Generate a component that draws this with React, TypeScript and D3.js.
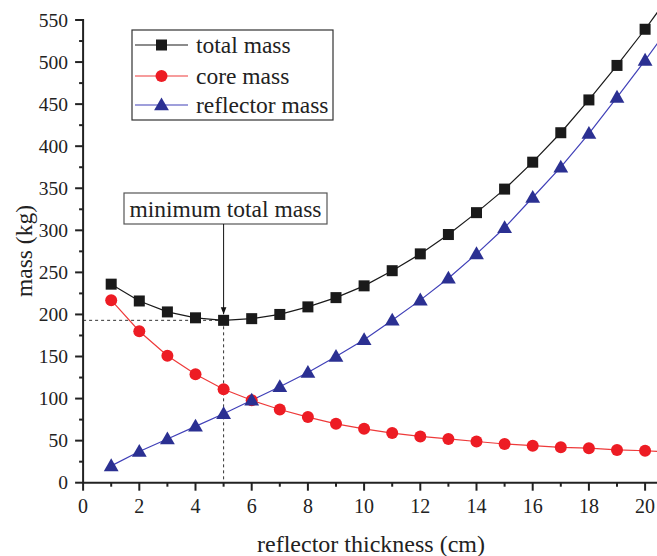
import React from "react";
import * as d3 from "d3";

const thickness = [1, 2, 3, 4, 5, 6, 7, 8, 9, 10, 11, 12, 13, 14, 15, 16, 17, 18, 19, 20, 21];
const totalMass = [236, 216, 203, 196, 193, 195, 200, 209, 220, 234, 252, 272, 295, 321, 349, 381, 416, 455, 496, 539, 585];
const coreMass = [217, 180, 151, 129, 111, 98, 87, 78, 70, 64, 59, 55, 52, 49, 46, 44, 42, 41, 39, 38, 36];
const reflectorMass = [20, 37, 52, 67, 82, 98, 114, 131, 150, 170, 193, 217, 243, 272, 303, 339, 375, 415, 458, 502, 548];
const xTicks = [0, 2, 4, 6, 8, 10, 12, 14, 16, 18, 20];
const yTicks = [0, 50, 100, 150, 200, 250, 300, 350, 400, 450, 500, 550];
const minX = 5;
const minTotal = 193;

const W = 657, H = 556;
const FONT = "'Liberation Serif', 'Times New Roman', serif";

export default function App() {
  const x = d3.scaleLinear().domain([0, 20]).range([83.1, 645.1]);
  const y = d3.scaleLinear().domain([0, 550]).range([482.7, 20]);
  const x0 = x(0), y0 = y(0);
  const xMax = W;
  const line = d3.line<[number, number]>().x(d => x(d[0])).y(d => y(d[1]));
  const pts = (vals: number[]) => thickness.map((t, i) => [t, vals[i]] as [number, number]);
  const minorX = d3.range(1, 21, 2);
  const minorY = d3.range(25, 550, 50);
  const tri = d3.symbol().type(d3.symbolTriangle).size(95)();
  const blackC = "#1a1a1a", redC = "#ed1c24", blueC = "#2b3092", blueLine = "#4040b8", redLine = "#ee3a3a";
  return (
    <svg width={W} height={H} style={{ position: "absolute", left: 0, top: 0, background: "#fff" }} fontFamily={FONT}>
      <defs>
        <clipPath id="plot"><rect x={x0} y={0} width={xMax - x0} height={y0} /></clipPath>
        <marker id="arr" viewBox="0 0 10 10" refX="10" refY="5" markerWidth="7" markerHeight="9" orient="auto">
          <path d="M0,1 L10,5 L0,9 Z" fill="#111" />
        </marker>
      </defs>
      {/* dashed guides */}
      <line x1={x0} x2={x(minX)} y1={y(minTotal)} y2={y(minTotal)} stroke="#333" strokeDasharray="3,3" strokeWidth={1} />
      <line x1={x(minX)} x2={x(minX)} y1={y(minTotal)} y2={y0} stroke="#333" strokeDasharray="3,3" strokeWidth={1} />
      <g clipPath="url(#plot)">
        <path d={line(pts(totalMass)) || ""} fill="none" stroke={blackC} strokeWidth={1.2} />
        <path d={line(pts(coreMass)) || ""} fill="none" stroke={redLine} strokeWidth={1.2} />
        <path d={line(pts(reflectorMass)) || ""} fill="none" stroke={blueLine} strokeWidth={1.2} />
        {thickness.map((t, i) => (
          <g key={i}>
            <rect x={x(t) - 5.5} y={y(totalMass[i]) - 5.5} width={11} height={11} fill={blackC} />
            <circle cx={x(t)} cy={y(coreMass[i])} r={6} fill={redC} />
            <path d={tri || ""} transform={`translate(${x(t)},${y(reflectorMass[i]) + 1})`} fill={blueC} />
          </g>
        ))}
      </g>
      {/* axes */}
      <line x1={x0} x2={xMax} y1={y0} y2={y0} stroke="#222" strokeWidth={2} />
      <line x1={x0} x2={x0} y1={y0 + 1} y2={y(550) - 1} stroke="#222" strokeWidth={2} />
      {xTicks.map(t => (
        <g key={"xt" + t}>
          <line x1={x(t)} x2={x(t)} y1={y0} y2={y0 + 8} stroke="#222" strokeWidth={2} />
          <text x={x(t)} y={y0 + 30} textAnchor="middle" fontSize={20} fill="#222">{t}</text>
        </g>
      ))}
      {minorX.map(t => (
        <line key={"xm" + t} x1={x(t)} x2={x(t)} y1={y0} y2={y0 + 4} stroke="#222" strokeWidth={2} />
      ))}
      {yTicks.map(t => (
        <g key={"yt" + t}>
          <line x1={x0 - 8} x2={x0} y1={y(t)} y2={y(t)} stroke="#222" strokeWidth={2} />
          <text x={x0 - 15} y={y(t) + 6.7} textAnchor="end" fontSize={19.5} fill="#222">{t}</text>
        </g>
      ))}
      {minorY.map(t => (
        <line key={"ym" + t} x1={x0 - 4} x2={x0} y1={y(t)} y2={y(t)} stroke="#222" strokeWidth={2} />
      ))}
      <text x={371} y={552} textAnchor="middle" fontSize={24} fill="#222">reflector thickness (cm)</text>
      <text transform={`translate(32,${251}) rotate(-90)`} textAnchor="middle" fontSize={23.5} fill="#222">mass (kg)</text>
      {/* annotation */}
      <rect x={124} y={193} width={203} height={31} fill="#fff" stroke="#555" strokeWidth={1.2} />
      <text x={225.5} y={216.5} textAnchor="middle" fontSize={23.5} fill="#222">minimum total mass</text>
      <line x1={x(minX)} x2={x(minX)} y1={224} y2={y(minTotal) - 6} stroke="#111" strokeWidth={1} markerEnd="url(#arr)" />
      {/* legend */}
      <rect x={132} y={30} width={201} height={90} fill="#fff" stroke="#333" strokeWidth={1.2} />
      {[
        { label: "total mass", c: blackC, lc: blackC, k: "sq", yy: 45 },
        { label: "core mass", c: redC, lc: redLine, k: "ci", yy: 76 },
        { label: "reflector mass", c: blueC, lc: blueLine, k: "tr", yy: 105 },
      ].map(e => (
        <g key={e.label}>
          <line x1={135} x2={188} y1={e.yy} y2={e.yy} stroke={e.lc} strokeWidth={1.2} />
          {e.k === "sq" && <rect x={156} y={e.yy - 5.5} width={11} height={11} fill={e.c} />}
          {e.k === "ci" && <circle cx={161.5} cy={e.yy} r={6} fill={e.c} />}
          {e.k === "tr" && <path d={tri || ""} transform={`translate(161.5,${e.yy + 1})`} fill={e.c} />}
          <text x={196} y={e.yy + 8} fontSize={23.5} fill="#222">{e.label}</text>
        </g>
      ))}
    </svg>
  );
}
